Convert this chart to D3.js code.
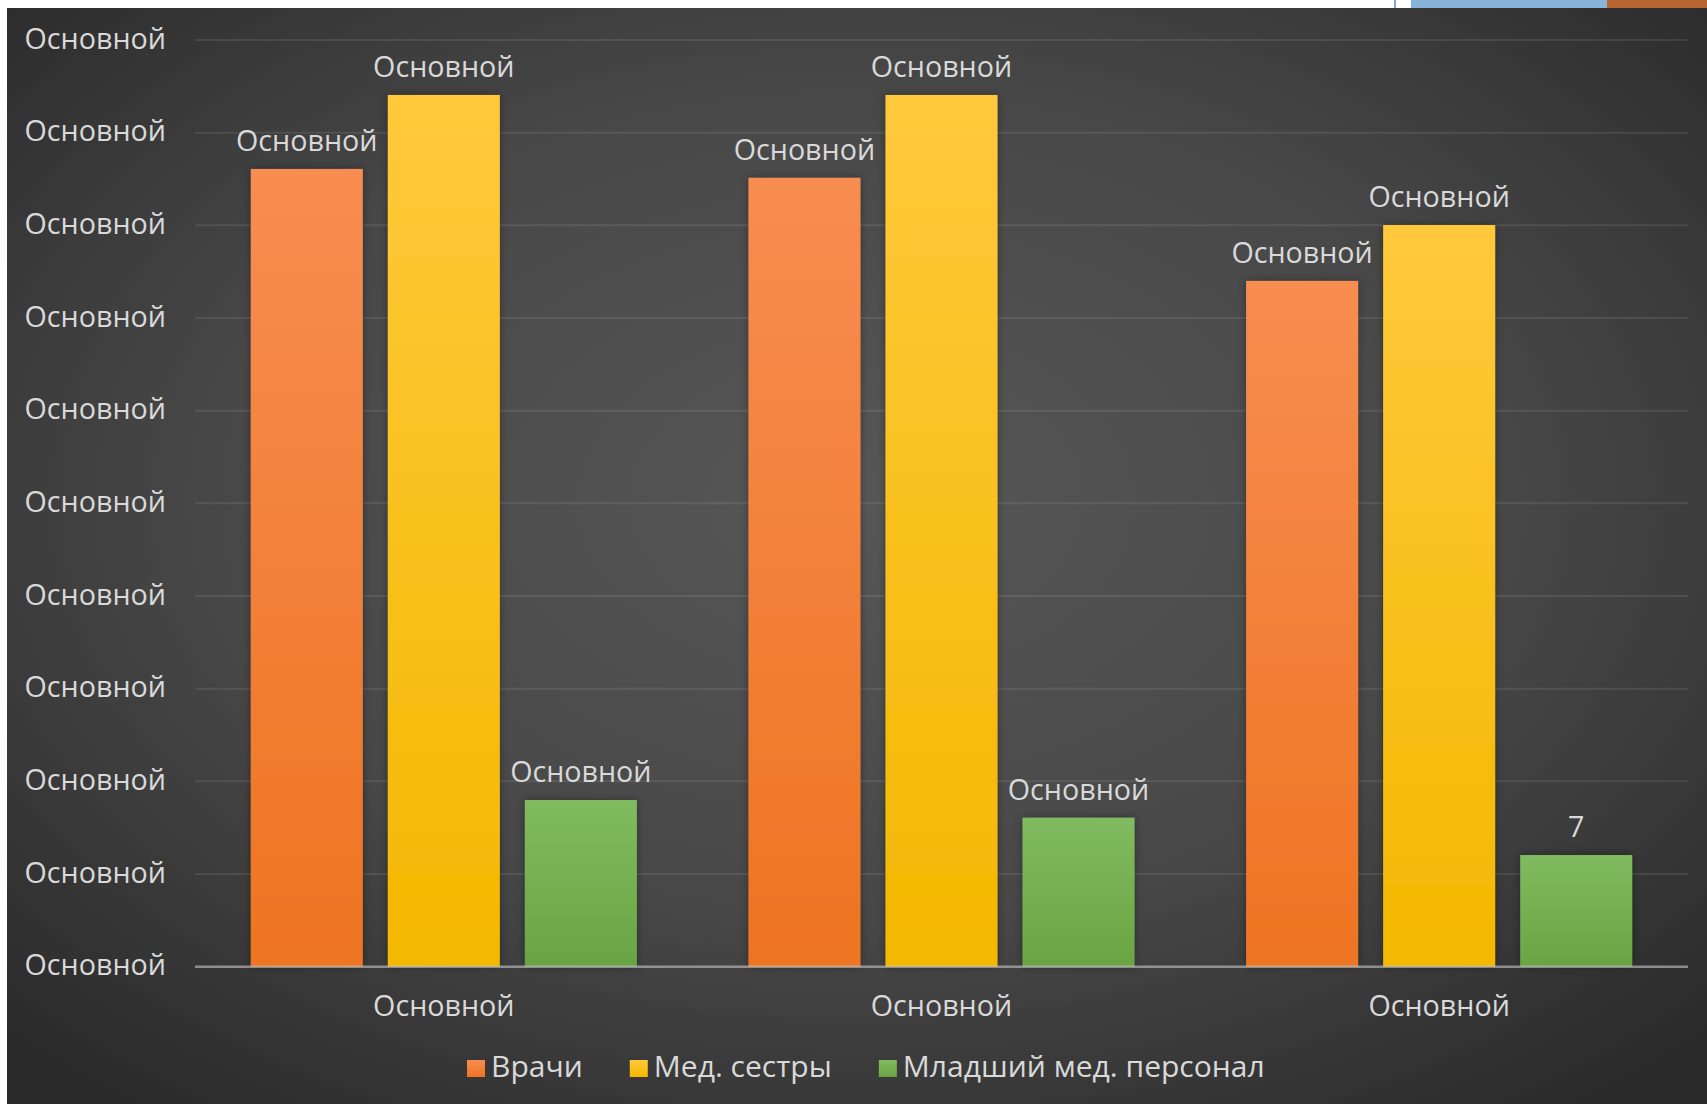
<!DOCTYPE html>
<html><head><meta charset="utf-8">
<script src="https://cdn.jsdelivr.net/npm/d3@7"></script>
<style>
html,body{margin:0;padding:0;background:#fff;overflow:hidden}
svg{display:block}
text{font-family:"Open Sans","Noto Sans",sans-serif;fill:#d9d9d9}
</style></head>
<body>
<script>
// ---- data ----
const categories = ["Основной", "Основной", "Основной"];
const seriesNames = ["Врачи", "Мед. сестры", "Младший мед. персонал"];
const doctors = [51.65, 51.08, 44.40];
const nurses  = [56.44, 56.44, 48.02];
const junior  = [10.79, 9.65, 7.23];
const doctorsLabels = ["Основной", "Основной", "Основной"];
const nursesLabels  = ["Основной", "Основной", "Основной"];
const juniorLabels  = ["Основной", "Основной", "7"];
const tickValues = [0, 6, 12, 18, 24, 30, 36, 42, 48, 54, 60];
const tickLabels = ["Основной","Основной","Основной","Основной","Основной","Основной","Основной","Основной","Основной","Основной","Основной"];

const W = 1707, H = 1104;
const svg = d3.select("body").append("svg").attr("width", W).attr("height", H);
const defs = svg.append("defs");

// background gradient
const bg = defs.append("radialGradient").attr("id","bg").attr("cx","50%").attr("cy","45%").attr("r","70%");
bg.append("stop").attr("offset","0%").attr("stop-color","#575757");
bg.append("stop").attr("offset","55%").attr("stop-color","#474747");
bg.append("stop").attr("offset","100%").attr("stop-color","#2a2a2a");

const colors = [["#f88d51","#ee7421"],["#ffc93b","#f3b800"],["#81bb60","#6aa443"]];
colors.forEach((c,i)=>{
  const g = defs.append("linearGradient").attr("id","g"+i).attr("x1",0).attr("y1",0).attr("x2",0).attr("y2",1);
  g.append("stop").attr("offset","0%").attr("stop-color",c[0]);
  g.append("stop").attr("offset","100%").attr("stop-color",c[1]);
});
const sh = defs.append("filter").attr("id","sh").attr("x","-20%").attr("y","-20%").attr("width","140%").attr("height","140%");
sh.append("feDropShadow").attr("dx",0).attr("dy",0).attr("stdDeviation",4).attr("flood-color","#000").attr("flood-opacity",0.35);

// page background
svg.append("rect").attr("x",7).attr("y",8).attr("width",W-7).attr("height",H-8).attr("fill","url(#bg)");
// decoration top right
svg.append("rect").attr("x",1394).attr("y",0).attr("width",2).attr("height",8).attr("fill","#7ea8d2");
svg.append("rect").attr("x",1411).attr("y",0).attr("width",196).attr("height",8).attr("fill","#8ab3d9");
svg.append("rect").attr("x",1607).attr("y",0).attr("width",100).attr("height",8).attr("fill","#b8662f");

// helper for font fitting
function fit(txt, target, base){
  const t = svg.append("text").style("font-size", base+"px").text(txt);
  const w = t.node().getComputedTextLength(); t.remove();
  return base*target/w;
}
const fs = fit("Основной", 141.5, 30);
const legendFs = fit("Младший мед. персонал", 362, 30);

// scales
const x0 = d3.scaleBand().domain(d3.range(categories.length)).range([195, 1688]).paddingInner(0).paddingOuter(0);
const x1 = d3.scaleBand().domain(d3.range(seriesNames.length)).range([0, x0.bandwidth()]).paddingInner(0.1825).paddingOuter(0.407);
const y = d3.scaleLinear().domain([0, 60]).range([966.7, 40]);

// gridlines
svg.append("g").selectAll("line").data(tickValues.slice(1)).join("line")
  .attr("x1",195).attr("x2",1688).attr("y1",d=>y(d)).attr("y2",d=>y(d))
  .attr("stroke","#ffffff").attr("stroke-opacity",0.09).attr("stroke-width",2);

// y axis labels
const yAxis = d3.axisLeft(y).tickValues(tickValues).tickSize(0).tickPadding(0)
  .tickFormat((d,i)=>tickLabels[i]);
const ya = svg.append("g").attr("transform","translate(166,0)").call(yAxis);
ya.select(".domain").remove();
ya.selectAll("text").attr("fill","#d9d9d9").style("font-size",fs+"px")
  .style("font-family",'"Open Sans","Noto Sans",sans-serif').attr("dy","0.32em").attr("y",-1);

// bars
const seriesVals = [doctors, nurses, junior];
const seriesLbls = [doctorsLabels, nursesLabels, juniorLabels];
const groups = svg.append("g").selectAll("g").data(categories).join("g")
  .attr("transform",(d,i)=>`translate(${x0(i)},0)`);
groups.selectAll("rect").data((d,i)=>seriesVals.map((s,k)=>({k, v:s[i]}))).join("rect")
  .attr("x",d=>x1(d.k)).attr("width",x1.bandwidth())
  .attr("y",d=>y(d.v)).attr("height",d=>y(0)-y(d.v))
  .attr("fill",d=>`url(#g${d.k})`).attr("filter","url(#sh)");
groups.selectAll("text.lbl").data((d,i)=>seriesVals.map((s,k)=>({k, v:s[i], t:seriesLbls[k][i]}))).join("text")
  .attr("class","lbl")
  .attr("x",d=>x1(d.k)+x1.bandwidth()/2).attr("y",d=>y(d.v)-18)
  .attr("text-anchor","middle").style("font-size",fs+"px").text(d=>d.t);

// x axis baseline
svg.append("line").attr("x1",195).attr("x2",1688).attr("y1",y(0)).attr("y2",y(0))
  .attr("stroke","#c8c8c8").attr("stroke-opacity",0.6).attr("stroke-width",2.5);

// category labels
const xAxis = d3.axisBottom(x0).tickSize(0).tickPadding(0).tickFormat(i=>categories[i]);
const xa = svg.append("g").attr("transform",`translate(0,${y(0)})`).call(xAxis);
xa.select(".domain").remove();
xa.selectAll("text").attr("fill","#d9d9d9").style("font-size",fs+"px")
  .style("font-family",'"Open Sans","Noto Sans",sans-serif').attr("dy",null).attr("y",49);

// legend
const lg = svg.append("g");
let lx = 467;
seriesNames.forEach((name,k)=>{
  lg.append("rect").attr("x",lx).attr("y",1060).attr("width",18).attr("height",17).attr("fill",`url(#g${k})`);
  const t = lg.append("text").attr("x",lx+24).attr("y",1077).style("font-size",legendFs+"px").text(name);
  lx = lx + 24 + t.node().getComputedTextLength() + 47;
});
</script>
</body></html>
